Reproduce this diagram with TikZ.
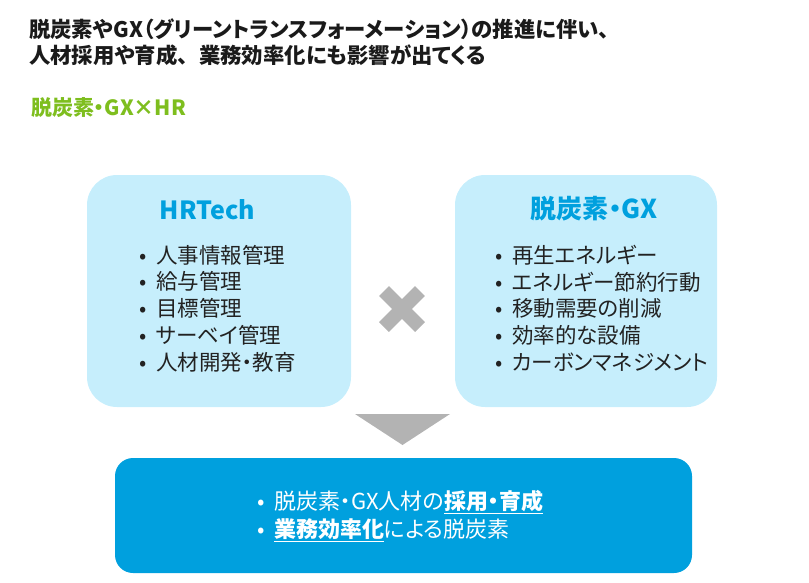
\documentclass[tikz,border=0pt]{standalone}
\usepackage{fontspec}
\setmainfont{Noto Sans CJK JP}[RawFeature=+palt]
\newfontfamily\fullwidth{Noto Sans CJK JP}
\definecolor{titleblack}{RGB}{26,26,26}
\definecolor{itemblack}{RGB}{34,34,34}
\definecolor{tagreen}{RGB}{126,190,30}
\definecolor{panelcyan}{RGB}{198,238,252}
\definecolor{resultblue}{RGB}{0,160,222}
\definecolor{markgray}{RGB}{179,179,179}
\tikzset{
    titleline/.style={anchor=west,inner sep=0pt,text=titleblack,font=\fontsize{21.4}{25}\selectfont\bfseries},
    tagline/.style={anchor=west,inner sep=0pt,text=tagreen,font=\fontsize{21}{25}\selectfont\bfseries},
    panel/.style={fill=panelcyan,rounded corners=30pt,minimum height=232pt,inner sep=0pt},
    resultpanel/.style={fill=resultblue,rounded corners=18pt,minimum width=577pt,minimum height=115pt,inner sep=0pt},
    heading/.style={inner sep=0pt,text=resultblue,font=\fontsize{25}{30}\selectfont\bfseries},
    listitem/.style={anchor=west,inner sep=0pt,text=itemblack,font=\fontsize{21.5}{25}\selectfont},
    resultitem/.style={anchor=west,inner sep=0pt,text=white,font=\fontsize{22}{26}\selectfont}
}
\newcommand{\bul}{\makebox[12pt]{•}\hspace{7pt}}
\newcommand{\keyword}[1]{\underline{\textbf{#1}}}

\begin{document}
\begin{tikzpicture}[x=1pt,y=-1pt]
    \useasboundingbox (0,0) rectangle (809,582);
    \node[titleline] (title1) at (29,29.5) {脱炭素やGX（グリーントランスフォーメーション）の推進に伴い、};
    \node[titleline] (title2) at (29,55) {人材採用や育成{\fullwidth 、}業務効率化にも影響が出てくる};
    \node[tagline] (tag) at (31,107.5) {脱炭素・GX×HR};
    \node[panel,minimum width=264pt] (hrbox) at (219,291) {};
    \node[panel,minimum width=262pt] (gxbox) at (586,291) {};
    \node[heading] (hrhead) at (207.5,209.5) {HRTech};
    \node[heading,font=\fontsize{26}{30}\selectfont\bfseries] (gxhead) at (594.5,208.5) {脱炭素・GX};
    \foreach \t [count=\i] in {人事情報管理,給与管理,目標管理,サーベイ管理,人材開発・教育} {
        \node[listitem] (hr\i) at (137,{255+26.75*(\i-1)}) {\bul\t};
      }
    \foreach \t [count=\i] in {再生エネルギー,エネルギー節約行動,移動需要の削減,効率的な設備,カーボンマネジメント} {
        \node[listitem] (gx\i) at (493,{255+26.75*(\i-1)}) {\bul\t};
      }
    \draw[markgray,line width=14pt] (384,291) -- (420,327) (420,291) -- (384,327);
    \fill[markgray] (355,414) -- (450,414) -- (402.5,445) -- cycle;
    \node[resultpanel] (result) at (403.5,515.5) {};
    \node[resultitem] (res1) at (255,502) {\bul 脱炭素・GX人材の\keyword{採用・育成}};
    \node[resultitem] (res2) at (255,530) {\bul\keyword{業務効率化}による脱炭素};
  \end{tikzpicture}
\end{document}
